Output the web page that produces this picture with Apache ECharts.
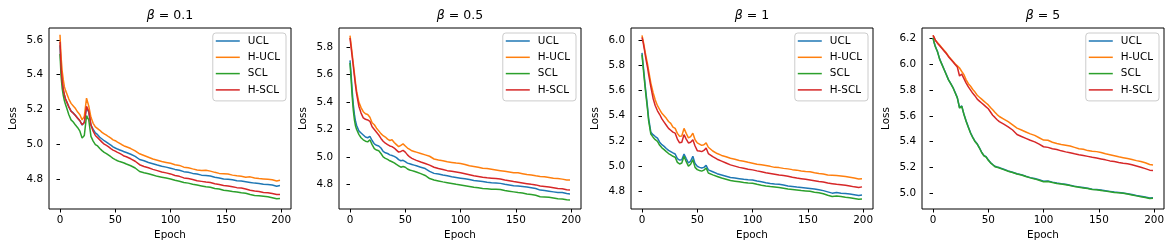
<!DOCTYPE html>
<html><head><meta charset="utf-8">
<script src="https://cdn.jsdelivr.net/npm/echarts@6/dist/echarts.min.js"></script>
<style>html,body{margin:0;padding:0;background:#fff}#c{width:1172px;height:249px}</style>
</head><body><div id="c"></div>
<script>
const epochs = [0,1,2,3,4,5,6,8,10,12,14,16,18,20,22,24,26,28,30,32,34,36,38,40,42,44,46,48,50,52,54,56,58,60,64,68,72,76,80,84,88,92,96,100,104,108,112,116,120,124,128,132,136,140,144,148,152,156,160,164,168,172,176,180,184,188,192,196,199];
const seriesNames = ['UCL','H-UCL','SCL','H-SCL'];
const betaLabels = ['0.1','0.5','1','5'];
const xTicks = [0,50,100,150,200];
const yTicks_b01 = [4.8,5.0,5.2,5.4,5.6];
const yTicks_b05 = [4.8,5.0,5.2,5.4,5.6,5.8];
const yTicks_b1 = [4.8,5.0,5.2,5.4,5.6,5.8,6.0];
const yTicks_b5 = [5.0,5.2,5.4,5.6,5.8,6.0,6.2];

// beta = 0.1
const ucl_b01 = [5.57,5.43,5.36,5.31,5.28,5.26,5.245,
5.215,5.19,5.18,5.165,5.15,5.135,5.11,5.125,
5.21,5.185,5.11,5.085,5.065,5.055,5.04,5.03,
5.02,5.012,5.003,4.995,4.985,4.978,4.972,4.967,
4.962,4.957,4.952,
4.942,4.93,4.912,4.905,4.895,4.888,4.88,4.873,
4.868,4.862,4.855,4.85,4.842,4.838,4.832,4.828,
4.822,4.82,4.817,4.81,4.806,4.80,4.798,4.795,
4.79,4.788,4.784,4.78,4.776,4.774,4.77,4.768,
4.765,4.758,4.762];
const hucl_b01 = [5.63,5.50,5.42,5.37,5.33,5.31,5.30,
5.26,5.235,5.22,5.205,5.185,5.17,5.14,5.16,
5.265,5.22,5.155,5.12,5.10,5.09,5.08,5.068,
5.06,5.052,5.043,5.035,5.025,5.02,5.012,5.005,
4.997,4.99,4.985,
4.975,4.962,4.945,4.935,4.925,4.915,4.908,4.90,
4.895,4.89,4.882,4.878,4.868,4.865,4.858,4.852,
4.848,4.85,4.845,4.838,4.832,4.83,4.828,4.822,
4.818,4.815,4.81,4.812,4.806,4.802,4.80,4.798,
4.795,4.788,4.792];
const scl_b01 = [5.52,5.39,5.32,5.28,5.25,5.228,5.21,
5.17,5.14,5.128,5.11,5.095,5.075,5.035,5.05,
5.165,5.14,5.045,5.018,4.998,4.99,4.975,4.963,
4.953,4.946,4.937,4.928,4.918,4.911,4.905,4.90,
4.896,4.892,4.886,
4.876,4.863,4.843,4.836,4.83,4.823,4.815,4.81,
4.805,4.80,4.792,4.787,4.78,4.776,4.77,4.765,
4.76,4.755,4.752,4.745,4.742,4.735,4.732,4.728,
4.725,4.72,4.718,4.71,4.705,4.703,4.70,4.697,
4.692,4.686,4.688];
const hscl_b01 = [5.59,5.44,5.36,5.315,5.285,5.26,5.245,
5.215,5.19,5.178,5.165,5.15,5.135,5.112,5.125,
5.218,5.19,5.11,5.075,5.05,5.038,5.025,5.012,
5.0,4.993,4.985,4.975,4.966,4.96,4.953,4.947,
4.94,4.932,4.928,
4.916,4.902,4.882,4.872,4.864,4.855,4.848,4.84,
4.835,4.829,4.82,4.815,4.806,4.802,4.797,4.79,
4.786,4.782,4.779,4.772,4.768,4.762,4.76,4.755,
4.75,4.748,4.742,4.735,4.73,4.728,4.722,4.72,
4.716,4.71,4.71];

// beta = 0.5
const ucl_b05 = [5.705,5.60,5.48,5.38,5.31,5.26,5.23,
5.19,5.175,5.16,5.145,5.14,5.15,5.12,5.095,
5.085,5.08,5.065,5.04,5.03,5.025,5.015,5.01,
5.004,4.995,4.98,4.972,4.975,4.965,4.955,4.95,
4.945,4.94,4.935,
4.925,4.915,4.895,4.88,4.875,4.868,4.862,4.855,
4.85,4.845,4.84,4.835,4.828,4.825,4.82,4.815,
4.812,4.81,4.807,4.80,4.795,4.79,4.787,4.784,
4.78,4.775,4.77,4.758,4.755,4.75,4.745,4.74,
4.74,4.733,4.73];
const hucl_b05 = [5.885,5.82,5.75,5.68,5.61,5.54,5.48,
5.40,5.36,5.33,5.315,5.31,5.29,5.25,5.235,
5.21,5.19,5.17,5.155,5.145,5.13,5.12,5.125,
5.105,5.09,5.075,5.085,5.095,5.08,5.065,5.055,
5.045,5.04,5.035,
5.025,5.015,5.005,4.985,4.978,4.972,4.965,4.96,
4.955,4.952,4.945,4.935,4.93,4.925,4.918,4.915,
4.91,4.905,4.90,4.895,4.89,4.885,4.884,4.878,
4.872,4.868,4.862,4.857,4.855,4.85,4.845,4.842,
4.838,4.832,4.832];
const scl_b05 = [5.686,5.57,5.44,5.34,5.27,5.225,5.20,
5.165,5.14,5.125,5.115,5.11,5.125,5.09,5.06,
5.05,5.045,5.025,5.0,4.99,4.982,4.972,4.965,
4.957,4.945,4.935,4.925,4.93,4.925,4.912,4.905,
4.90,4.895,4.89,
4.878,4.865,4.842,4.832,4.825,4.818,4.812,4.806,
4.80,4.795,4.79,4.785,4.778,4.775,4.77,4.767,
4.764,4.765,4.763,4.755,4.75,4.745,4.74,4.736,
4.73,4.725,4.72,4.71,4.708,4.705,4.70,4.695,
4.693,4.688,4.686];
const hscl_b05 = [5.868,5.80,5.73,5.66,5.59,5.52,5.46,
5.37,5.32,5.285,5.275,5.27,5.26,5.22,5.20,
5.18,5.16,5.135,5.115,5.10,5.09,5.08,5.075,
5.065,5.05,5.035,5.04,5.048,5.035,5.015,5.0,
4.99,4.982,4.975,
4.963,4.952,4.94,4.925,4.915,4.908,4.90,4.895,
4.89,4.885,4.878,4.87,4.862,4.858,4.852,4.848,
4.845,4.842,4.839,4.832,4.826,4.82,4.815,4.81,
4.805,4.80,4.796,4.788,4.785,4.78,4.775,4.77,
4.768,4.76,4.758];

// beta = 1
const ucl_b1 = [5.90,5.81,5.72,5.63,5.55,5.47,5.38,
5.27,5.25,5.235,5.222,5.19,5.17,5.157,5.14,
5.125,5.115,5.105,5.096,5.06,5.048,5.05,5.096,
5.06,5.025,5.04,5.078,5.02,4.999,4.99,4.985,
4.99,5.006,4.97,
4.955,4.94,4.93,4.92,4.91,4.905,4.90,4.895,
4.892,4.89,4.882,4.875,4.868,4.862,4.858,4.856,
4.85,4.842,4.838,4.833,4.83,4.826,4.822,4.818,
4.812,4.805,4.795,4.785,4.79,4.785,4.782,4.778,
4.772,4.766,4.77];
const hucl_b1 = [6.04,6.0,5.95,5.90,5.855,5.81,5.76,
5.66,5.585,5.525,5.48,5.45,5.42,5.40,5.38,
5.355,5.34,5.31,5.30,5.26,5.237,5.24,5.30,
5.26,5.225,5.235,5.262,5.21,5.185,5.175,5.165,
5.17,5.185,5.15,
5.12,5.10,5.085,5.075,5.062,5.055,5.045,5.038,
5.03,5.023,5.015,5.01,5.005,4.998,4.99,4.988,
4.982,4.978,4.972,4.968,4.962,4.958,4.955,4.948,
4.942,4.938,4.93,4.928,4.925,4.922,4.918,4.912,
4.905,4.898,4.90];
const scl_b1 = [5.886,5.79,5.70,5.61,5.53,5.45,5.36,
5.255,5.23,5.21,5.197,5.165,5.145,5.131,5.115,
5.10,5.09,5.078,5.07,5.03,5.017,5.025,5.078,
5.035,5.0,5.015,5.051,4.99,4.972,4.965,4.96,
4.968,4.985,4.945,
4.93,4.918,4.905,4.895,4.885,4.88,4.875,4.87,
4.866,4.864,4.855,4.848,4.842,4.837,4.833,4.829,
4.824,4.818,4.814,4.81,4.806,4.803,4.80,4.793,
4.788,4.78,4.768,4.758,4.762,4.758,4.752,4.748,
4.742,4.736,4.738];
const hscl_b1 = [6.024,5.985,5.935,5.88,5.83,5.785,5.73,
5.63,5.54,5.48,5.44,5.41,5.375,5.35,5.325,
5.30,5.285,5.27,5.262,5.215,5.185,5.19,5.25,
5.215,5.184,5.19,5.21,5.16,5.123,5.12,5.115,
5.125,5.144,5.10,
5.075,5.055,5.04,5.025,5.01,5.0,4.99,4.983,
4.975,4.97,4.962,4.955,4.948,4.942,4.936,4.93,
4.925,4.92,4.912,4.905,4.90,4.895,4.89,4.884,
4.878,4.874,4.865,4.86,4.855,4.852,4.848,4.842,
4.835,4.83,4.835];

// beta = 5
const ucl_b5 = [6.208,6.172,6.143,6.121,6.10,6.072,6.043,
6.003,5.962,5.923,5.882,5.852,5.822,5.783,5.742,
5.665,5.678,5.613,5.56,5.513,5.468,5.433,5.403,
5.383,5.352,5.318,5.293,5.283,5.258,5.238,5.222,
5.208,5.202,5.198,
5.185,5.172,5.162,5.15,5.143,5.13,5.12,5.113,
5.103,5.092,5.093,5.085,5.078,5.072,5.068,5.06,
5.053,5.048,5.043,5.038,5.03,5.028,5.023,5.018,
5.013,5.008,5.005,5.0,4.995,4.988,4.981,4.975,
4.969,4.961,4.963];
const hucl_b5 = [6.226,6.21,6.19,6.18,6.17,6.16,6.15,
6.13,6.11,6.09,6.065,6.045,6.025,6.005,5.99,
5.972,5.945,5.92,5.88,5.85,5.83,5.805,5.785,
5.76,5.745,5.73,5.715,5.70,5.685,5.665,5.648,
5.628,5.61,5.595,
5.575,5.555,5.53,5.505,5.49,5.475,5.46,5.448,
5.43,5.412,5.41,5.395,5.385,5.378,5.372,5.365,
5.355,5.345,5.34,5.33,5.325,5.322,5.315,5.305,
5.298,5.29,5.282,5.275,5.268,5.26,5.252,5.245,
5.235,5.222,5.218];
const scl_b5 = [6.205,6.17,6.14,6.12,6.10,6.07,6.04,
6.0,5.96,5.92,5.88,5.85,5.82,5.78,5.74,
5.66,5.675,5.61,5.557,5.51,5.465,5.43,5.40,
5.38,5.35,5.315,5.29,5.28,5.255,5.235,5.22,
5.205,5.20,5.195,
5.182,5.17,5.16,5.148,5.14,5.128,5.118,5.11,
5.10,5.088,5.09,5.082,5.075,5.07,5.065,5.058,
5.05,5.045,5.04,5.035,5.028,5.025,5.02,5.015,
5.01,5.005,5.002,4.998,4.992,4.985,4.978,4.972,
4.966,4.958,4.96];
const hscl_b5 = [6.226,6.21,6.19,6.178,6.165,6.155,6.145,
6.125,6.105,6.085,6.06,6.04,6.02,6.0,5.98,
5.91,5.925,5.89,5.855,5.825,5.80,5.775,5.755,
5.73,5.715,5.70,5.685,5.67,5.655,5.63,5.605,
5.588,5.57,5.555,
5.535,5.515,5.49,5.455,5.44,5.425,5.41,5.398,
5.38,5.36,5.355,5.345,5.338,5.328,5.32,5.313,
5.305,5.298,5.292,5.285,5.278,5.272,5.265,5.258,
5.25,5.245,5.238,5.232,5.228,5.22,5.21,5.20,
5.19,5.178,5.176];

const panelData = [
  [ucl_b01, hucl_b01, scl_b01, hscl_b01],
  [ucl_b05, hucl_b05, scl_b05, hscl_b05],
  [ucl_b1, hucl_b1, scl_b1, hscl_b1],
  [ucl_b5, hucl_b5, scl_b5, hscl_b5]
];
const panelYTicks = [yTicks_b01, yTicks_b05, yTicks_b1, yTicks_b5];

// layout
const colors = ['#1f77b4','#ff7f0e','#2ca02c','#d62728'];
const FONT = 'DejaVu Sans';
const gridLefts = [49, 339, 631, 922];
const gridTop = 28, gridW = 242, gridH = 181;
const yRanges = [[4.627,5.669],[4.62,5.941],[4.659,6.098],[4.876,6.283]];
const xRange = [-9.95, 208.95];

const grids = [], xAxes = [], yAxes = [], titles = [], legends = [], series = [];
for (let i = 0; i < 4; i++) {
  grids.push({left: gridLefts[i], top: gridTop, width: gridW, height: gridH, show: true,
    borderColor: '#000', borderWidth: 1, backgroundColor: 'transparent', containLabel: false});
  xAxes.push({type: 'value', gridIndex: i, min: xRange[0], max: xRange[1],
    axisLine: {show: false}, splitLine: {show: false},
    axisTick: {show: true, length: 3.5, customValues: xTicks, lineStyle: {color: '#000', width: 1}},
    axisLabel: {customValues: xTicks, color: '#000', fontSize: 10.4, fontFamily: FONT, margin: 6},
    name: 'Epoch', nameLocation: 'middle', nameGap: 20,
    nameTextStyle: {color: '#000', fontSize: 10.4, fontFamily: FONT}});
  yAxes.push({type: 'value', gridIndex: i, min: yRanges[i][0], max: yRanges[i][1],
    axisLine: {show: false}, splitLine: {show: false},
    axisTick: {show: true, length: 3.5, customValues: panelYTicks[i], lineStyle: {color: '#000', width: 1}},
    axisLabel: {customValues: panelYTicks[i], color: '#000', fontSize: 10.4, fontFamily: FONT, margin: 6,
      formatter: v => v.toFixed(1)},
    name: 'Loss', nameLocation: 'middle', nameGap: 31,
    nameTextStyle: {color: '#000', fontSize: 10.4, fontFamily: FONT}});
  titles.push({text: '{b|β} = ' + betaLabels[i], left: gridLefts[i] + gridW / 2, top: 9, padding: 0,
    textAlign: 'center',
    textStyle: {fontFamily: FONT, fontSize: 12.5, fontWeight: 'normal', color: '#000',
      rich: {b: {fontFamily: FONT, fontSize: 12.5, fontStyle: 'italic', color: '#000'}}}});
  legends.push({orient: 'vertical', right: 1172 - (gridLefts[i] + gridW - 5), top: gridTop + 5,
    data: seriesNames.map(n => ({name: n, icon: 'rect'})), selectedMode: false,
    itemWidth: 24, itemHeight: 1.5, itemGap: 6.3,
    padding: [3, 6, 6, 3], backgroundColor: 'rgba(255,255,255,0.8)', borderColor: '#cccccc',
    borderWidth: 1, borderRadius: 3,
    textStyle: {color: '#000', fontSize: 10.4, fontFamily: FONT, padding: [0, 0, 0, 3]}});
  for (let s = 0; s < 4; s++) {
    const vals = panelData[i][s];
    series.push({type: 'line', name: seriesNames[s], xAxisIndex: i, yAxisIndex: i,
      data: epochs.map((e, k) => [e, vals[k]]), symbol: 'none', showSymbol: false,
      lineStyle: {width: 1.5, color: colors[s]}, itemStyle: {color: colors[s]},
      silent: true, z: 2 + s});
  }
}

const chart = echarts.init(document.getElementById('c'), null, {renderer: 'canvas'});
chart.setOption({animation: false, backgroundColor: '#fff', grid: grids, xAxis: xAxes, yAxis: yAxes,
  title: titles, legend: legends, series: series});
</script>
</body></html>
